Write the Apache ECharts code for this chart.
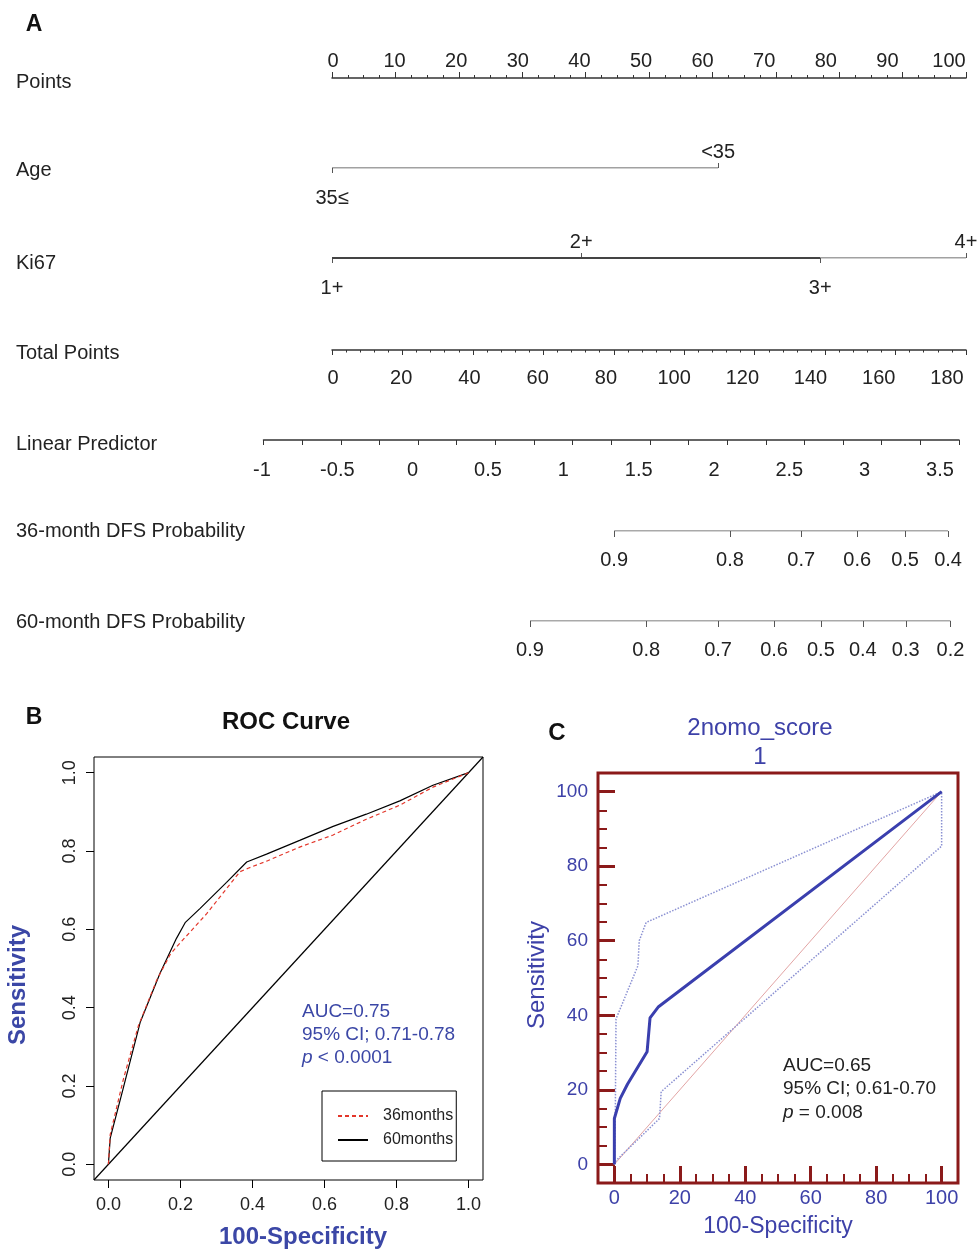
<!DOCTYPE html>
<html>
<head>
<meta charset="utf-8">
<script src="https://cdn.jsdelivr.net/npm/echarts@6/dist/echarts.min.js"></script>
<style>
html, body { margin: 0; padding: 0; background: #fff; }
#chart { width: 977px; height: 1249px; }
</style>
</head>
<body>
<div id="chart"></div>
<script>
// ---- panel A: nomogram ----
var ageLabels = ['35≤', '<35'];
var agePoints = [0, 60.9];
var ki67Labels = ['1+', '2+', '3+', '4+'];
var ki67Points = [0, 39.3, 77.0, 100];
// probability ticks, placed on the total points scale
var dfs36Labels = ['0.9', '0.8', '0.7', '0.6', '0.5', '0.4'];
var dfs36Points = [80.1, 113.0, 133.2, 149.1, 162.7, 174.9];
var dfs60Labels = ['0.9', '0.8', '0.7', '0.6', '0.5', '0.4', '0.3', '0.2'];
var dfs60Points = [56.2, 89.2, 109.6, 125.5, 138.8, 150.7, 162.9, 175.6];

// ---- panel B: ROC curves ----
var rocTicks = [0, 0.2, 0.4, 0.6, 0.8, 1.0];
var roc36X = [0, 0.005, 0.042, 0.083, 0.134, 0.171, 0.189, 0.273, 0.365, 0.388, 0.439, 0.531, 0.624, 0.716, 0.809, 0.901, 1.0];
var roc36Y = [0, 0.076, 0.219, 0.353, 0.47, 0.535, 0.555, 0.64, 0.747, 0.756, 0.774, 0.81, 0.841, 0.881, 0.917, 0.963, 1.0];
var roc60X = [0, 0.005, 0.04, 0.088, 0.143, 0.189, 0.213, 0.254, 0.328, 0.384, 0.439, 0.531, 0.624, 0.716, 0.809, 0.901, 1.0];
var roc60Y = [0, 0.067, 0.19, 0.362, 0.487, 0.577, 0.617, 0.653, 0.72, 0.772, 0.792, 0.827, 0.863, 0.894, 0.928, 0.968, 1.0];

// ---- panel C: ROC with 95% CI (MedCalc) ----
var cTicks = [0, 20, 40, 60, 80, 100];
var cMainX = [0, 0, 1.8, 4, 10, 10.9, 13.5, 100];
var cMainY = [0, 12.3, 17.7, 21.5, 30.2, 39.3, 42.3, 100];
var cUpperX = [0, 0.3, 0.5, 7.2, 7.6, 9.7, 100];
var cUpperY = [0, 14.5, 39, 53.3, 60, 64.9, 100];
var cLowerX = [0, 0.5, 13.8, 14.3, 100, 100];
var cLowerY = [0, 1, 12.3, 19.5, 85.4, 100];

var FONT = 'Liberation Sans, Arial, Helvetica, sans-serif';
var INK = '#222';
var AXC = '#333';
var BLUE_B = '#3b47a6';
var BLUE_C = '#3d41a8';
var RED_C = '#8b1a1a';
var NOMO_FS = 20;

function pairs(xs, ys) {
    return xs.map(function (x, i) { return [x, ys[i]]; });
}

var grids = [], xAxes = [], yAxes = [], series = [];

function addGrid(g) {
    g.outerBoundsMode = 'none';
    g.containLabel = false;
    grids.push(g);
    return grids.length - 1;
}
function hiddenY(gi) {
    yAxes.push({ gridIndex: gi, type: 'value', min: 0, max: 1, show: false });
    return yAxes.length - 1;
}
function lbl(extra) {
    var o = { fontSize: NOMO_FS, color: INK, fontFamily: FONT };
    for (var k in extra) o[k] = extra[k];
    return o;
}
function noZero(style) {
    var o = { onZero: false };
    if (style === false) o.show = false; else o.lineStyle = style;
    return o;
}

// Points
var g = addGrid({ left: 332, right: 11, top: 76, height: 2 });
hiddenY(g);
xAxes.push({
    gridIndex: g, type: 'value', min: 0, max: 100, interval: 10,
    axisLine: noZero({ color: AXC, width: 1.5 }),
    axisTick: { inside: true, length: 6, lineStyle: { color: AXC } },
    minorTick: { show: true, splitNumber: 4, length: 3, lineStyle: { color: AXC } },
    splitLine: { show: false }, axisLabel: { show: false }
});
g = addGrid({ left: 333, right: 28, top: 76, height: 2 });
hiddenY(g);
xAxes.push({
    gridIndex: g, type: 'value', min: 0, max: 100, interval: 10,
    axisLine: noZero(false), axisTick: { show: false }, splitLine: { show: false },
    axisLabel: lbl({ inside: true, margin: 7 })
});

// Age and Ki67: levels alternate below / above the line
function levelRow(top, pts, labels, widths) {
    var gi = addGrid({ left: 332, right: 11, top: top, height: 2 });
    var yi = hiddenY(gi);
    var below = pts.filter(function (p, i) { return i % 2 === 0; });
    var above = pts.filter(function (p, i) { return i % 2 === 1; });
    var fmt = function (v) { return labels[pts.indexOf(v)]; };
    xAxes.push({
        gridIndex: gi, type: 'value', min: 0, max: 100, position: 'bottom',
        axisLine: noZero(false), splitLine: { show: false },
        axisTick: { customValues: below, length: 5, lineStyle: { color: '#555' } },
        axisLabel: lbl({ customValues: below, formatter: fmt, margin: 20 })
    });
    var xi = xAxes.length - 1;
    xAxes.push({
        gridIndex: gi, type: 'value', min: 0, max: 100, position: 'top', offset: -2,
        axisLine: noZero(false), splitLine: { show: false },
        axisTick: { customValues: above, length: 5, lineStyle: { color: '#555' } },
        axisLabel: lbl({ customValues: above, formatter: fmt, margin: 6 })
    });
    widths.forEach(function (w) {
        series.push({
            type: 'line', xAxisIndex: xi, yAxisIndex: yi, symbol: 'none', silent: true,
            lineStyle: { color: '#444', width: w[2] },
            data: pts.slice(w[0], w[1] + 1).map(function (p) { return [p, 0]; })
        });
    });
}
levelRow(166, agePoints, ageLabels, [[0, 1, 1.2]]);
levelRow(256, ki67Points, ki67Labels, [[0, 2, 2.2], [2, 3, 1.2]]);

// Total Points
g = addGrid({ left: 332, right: 11, top: 348, height: 2 });
hiddenY(g);
xAxes.push({
    gridIndex: g, type: 'value', min: 0, max: 180, interval: 20,
    axisLine: noZero({ color: AXC, width: 1.5 }),
    axisTick: { length: 5, lineStyle: { color: AXC } },
    minorTick: { show: true, splitNumber: 5, length: 2.5, lineStyle: { color: AXC } },
    splitLine: { show: false }, axisLabel: { show: false }
});
g = addGrid({ left: 333, right: 30, top: 348, height: 2 });
hiddenY(g);
xAxes.push({
    gridIndex: g, type: 'value', min: 0, max: 180, interval: 20,
    axisLine: noZero(false), axisTick: { show: false }, splitLine: { show: false },
    axisLabel: lbl({ margin: 18 })
});

// Linear Predictor
g = addGrid({ left: 263.5, right: 18, top: 438, height: 2 });
hiddenY(g);
xAxes.push({
    gridIndex: g, type: 'value', min: -1, max: 3.5, interval: 0.5,
    axisLine: noZero({ color: AXC, width: 1.5 }),
    axisTick: { length: 5, lineStyle: { color: AXC } },
    minorTick: { show: true, splitNumber: 2, length: 5, lineStyle: { color: AXC } },
    splitLine: { show: false }, axisLabel: { show: false }
});
g = addGrid({ left: 262, right: 37, top: 438, height: 2 });
hiddenY(g);
xAxes.push({
    gridIndex: g, type: 'value', min: -1, max: 3.5, interval: 0.5,
    axisLine: noZero(false), axisTick: { show: false }, splitLine: { show: false },
    axisLabel: lbl({ margin: 20 })
});

// DFS probability rows, on the total points scale
function probRow(top, pts, labels) {
    var gi = addGrid({ left: 332, right: 11, top: top, height: 2 });
    var yi = hiddenY(gi);
    xAxes.push({
        gridIndex: gi, type: 'value', min: 0, max: 180,
        axisLine: noZero(false), splitLine: { show: false },
        axisTick: { customValues: pts, length: 6, lineStyle: { color: '#555' } },
        axisLabel: lbl({ customValues: pts, margin: 19,
            formatter: function (v) { return labels[pts.indexOf(v)]; } })
    });
    series.push({
        type: 'line', xAxisIndex: xAxes.length - 1, yAxisIndex: yi, symbol: 'none', silent: true,
        lineStyle: { color: '#555', width: 1.2 },
        data: [[pts[0], 0], [pts[pts.length - 1], 0]]
    });
}
probRow(529, dfs36Points, dfs36Labels);
probRow(619, dfs60Points, dfs60Labels);

// ---- panel B ----
g = addGrid({ left: 94, top: 757, width: 389, height: 423, show: true, borderColor: '#000', borderWidth: 1 });
xAxes.push({
    gridIndex: g, type: 'value', min: -0.04, max: 1.04, position: 'bottom',
    axisLine: noZero(false), splitLine: { show: false },
    axisTick: { customValues: rocTicks, length: 8, lineStyle: { color: '#000' } },
    axisLabel: lbl({ customValues: rocTicks, margin: 16, fontSize: 18,
        formatter: function (v) { return v.toFixed(1); } })
});
var bx = xAxes.length - 1;
yAxes.push({
    gridIndex: g, type: 'value', min: -0.04, max: 1.04, position: 'left',
    axisLine: noZero(false), splitLine: { show: false },
    axisTick: { customValues: rocTicks, length: 8, lineStyle: { color: '#000' } },
    axisLabel: lbl({ customValues: rocTicks, margin: 15, fontSize: 18, rotate: 90,
        formatter: function (v) { return v.toFixed(1); } })
});
var by = yAxes.length - 1;
series.push({
    type: 'line', xAxisIndex: bx, yAxisIndex: by, symbol: 'none', silent: true,
    lineStyle: { color: '#000', width: 1.2 },
    data: [[-0.04, -0.04], [1.04, 1.04]]
});
series.push({
    name: '60months', type: 'line', xAxisIndex: bx, yAxisIndex: by, symbol: 'none', silent: true,
    lineStyle: { color: '#000', width: 1.2 }, itemStyle: { color: '#000' },
    data: pairs(roc60X, roc60Y)
});
series.push({
    name: '36months', type: 'line', xAxisIndex: bx, yAxisIndex: by, symbol: 'none', silent: true,
    lineStyle: { color: '#e3362a', width: 1.2, type: [4, 3] }, itemStyle: { color: '#e3362a' },
    data: pairs(roc36X, roc36Y)
});

// ---- panel C ----
g = addGrid({ left: 598, top: 773, width: 360, height: 410, show: true, borderColor: RED_C, borderWidth: 3 });
xAxes.push({
    gridIndex: g, type: 'value', min: -5, max: 105, position: 'bottom',
    axisLine: noZero(false), splitLine: { show: false },
    axisTick: { inside: true, customValues: cTicks, length: 17, lineStyle: { color: RED_C, width: 3 } },
    axisLabel: lbl({ customValues: cTicks, margin: 5, fontSize: 20, color: BLUE_C })
});
var cx = xAxes.length - 1;
xAxes.push({
    gridIndex: g, type: 'value', min: -5, max: 105, interval: 5, position: 'bottom',
    axisLine: noZero(false), splitLine: { show: false }, axisLabel: { show: false },
    axisTick: { inside: true, length: 9, lineStyle: { color: RED_C, width: 2 } }
});
yAxes.push({
    gridIndex: g, type: 'value', min: -5, max: 105, position: 'left',
    axisLine: noZero(false), splitLine: { show: false },
    axisTick: { inside: true, customValues: cTicks, length: 17, lineStyle: { color: RED_C, width: 3 } },
    axisLabel: lbl({ customValues: cTicks, margin: 10, fontSize: 19, color: BLUE_C })
});
var cy = yAxes.length - 1;
yAxes.push({
    gridIndex: g, type: 'value', min: -5, max: 105, interval: 5, position: 'left',
    axisLine: noZero(false), splitLine: { show: false }, axisLabel: { show: false },
    axisTick: { inside: true, length: 9, lineStyle: { color: RED_C, width: 2 } }
});
series.push({
    type: 'line', xAxisIndex: cx, yAxisIndex: cy, symbol: 'none', silent: true,
    lineStyle: { color: '#e3a5a5', width: 1 },
    data: [[0, 0], [100, 100]]
});
[[cUpperX, cUpperY], [cLowerX, cLowerY]].forEach(function (c) {
    series.push({
        type: 'line', xAxisIndex: cx, yAxisIndex: cy, symbol: 'none', silent: true,
        lineStyle: { color: '#8a90d2', width: 1.5, type: 'dotted' },
        data: pairs(c[0], c[1])
    });
});
series.push({
    type: 'line', xAxisIndex: cx, yAxisIndex: cy, symbol: 'none', silent: true,
    lineStyle: { color: '#3a3fae', width: 3 },
    data: pairs(cMainX, cMainY)
});

// ---- text ----
function txt(x, y, s, size, opt) {
    opt = opt || {};
    return {
        type: 'text', x: x, y: y, rotation: opt.rot || 0, silent: true,
        style: {
            text: s, fill: opt.color || INK, fontSize: size, fontFamily: FONT,
            fontWeight: opt.bold ? 'bold' : 'normal',
            align: opt.align || 'left', verticalAlign: 'middle',
            rich: opt.rich
        }
    };
}
function italicRich(size, color) {
    return { i: { fontStyle: 'italic', fontSize: size, fontFamily: FONT, fill: color },
             n: { fontSize: size, fontFamily: FONT, fill: color } };
}

var graphics = [
    txt(34, 25, 'A', 23, { bold: true, align: 'center', color: '#111' }),
    txt(16, 82, 'Points', NOMO_FS),
    txt(16, 170, 'Age', NOMO_FS),
    txt(16, 263, 'Ki67', NOMO_FS),
    txt(16, 353, 'Total Points', NOMO_FS),
    txt(16, 444, 'Linear Predictor', NOMO_FS),
    txt(16, 531, '36-month DFS Probability', NOMO_FS),
    txt(16, 622, '60-month DFS Probability', NOMO_FS),

    txt(34, 718, 'B', 23, { bold: true, align: 'center', color: '#111' }),
    txt(286, 722, 'ROC Curve', 24, { bold: true, align: 'center', color: '#111' }),
    txt(18, 985, 'Sensitivity', 24, { bold: true, align: 'center', color: BLUE_B, rot: Math.PI / 2 }),
    txt(303, 1237, '100-Specificity', 24, { bold: true, align: 'center', color: BLUE_B }),
    txt(302, 1012, 'AUC=0.75', 19, { color: BLUE_B }),
    txt(302, 1035, '95% CI; 0.71-0.78', 19, { color: BLUE_B }),
    txt(302, 1058, '{i|p}{n| < 0.0001}', 19, { color: BLUE_B, rich: italicRich(19, BLUE_B) }),

    txt(557, 733, 'C', 24, { bold: true, align: 'center', color: '#111' }),
    txt(760, 728, '2nomo_score', 24, { align: 'center', color: BLUE_C }),
    txt(760, 757, '1', 24, { align: 'center', color: BLUE_C }),
    txt(537, 975, 'Sensitivity', 24, { align: 'center', color: BLUE_C, rot: Math.PI / 2 }),
    txt(778, 1227, '100-Specificity', 23, { align: 'center', color: BLUE_C }),
    txt(783, 1066, 'AUC=0.65', 19),
    txt(783, 1089, '95% CI; 0.61-0.70', 19),
    txt(783, 1113, '{i|p}{n| = 0.008}', 19, { rich: italicRich(19, INK) })
];

var chart = echarts.init(document.getElementById('chart'), null, { renderer: 'canvas' });
chart.setOption({
    animation: false,
    backgroundColor: '#fff',
    grid: grids,
    xAxis: xAxes,
    yAxis: yAxes,
    series: series,
    legend: {
        data: ['36months', '60months'],
        orient: 'vertical', left: 322, top: 1091,
        borderColor: '#000', borderWidth: 1, borderRadius: 0,
        padding: [17, 3, 13, 15], itemGap: 8, itemWidth: 30, itemHeight: 14,
        selectedMode: false,
        itemStyle: { opacity: 0 },
        textStyle: { fontSize: 16, color: INK, fontFamily: FONT, padding: [0, 0, 0, 10] }
    },
    graphic: graphics
});
</script>
</body>
</html>
